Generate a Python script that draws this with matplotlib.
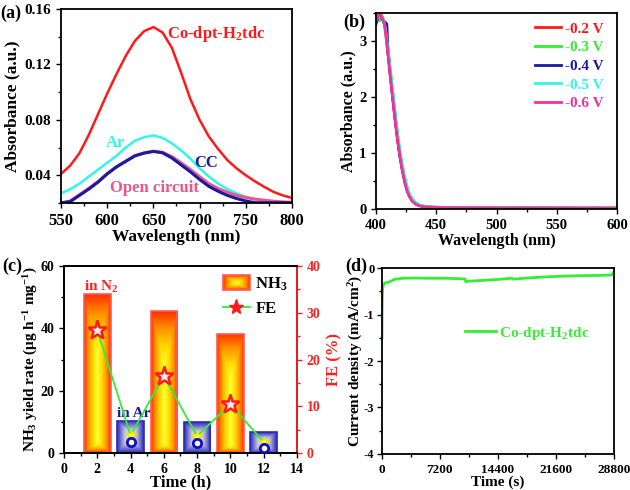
import numpy as np
import matplotlib
matplotlib.use("Agg")
import matplotlib.pyplot as plt
from matplotlib.ticker import AutoMinorLocator
from matplotlib.colors import LinearSegmentedColormap
from matplotlib.legend_handler import HandlerBase
from matplotlib.image import BboxImage
from matplotlib.transforms import Bbox, TransformedBbox
from matplotlib.patches import Rectangle
from matplotlib.lines import Line2D
from matplotlib.font_manager import FontProperties

plt.rcParams['font.family'] = ['Liberation Serif', 'DejaVu Serif']
plt.rcParams['font.weight'] = 'bold'
plt.rcParams['axes.labelweight'] = 'bold'
plt.rcParams['mathtext.fontset'] = 'custom'
plt.rcParams['mathtext.rm'] = 'Liberation Serif:bold'
plt.rcParams['mathtext.it'] = 'Liberation Serif:bold'
plt.rcParams['mathtext.bf'] = 'Liberation Serif:bold'
plt.rcParams['mathtext.default'] = 'rm'
plt.rcParams['axes.linewidth'] = 1.3

# ---- (a) UV-vis absorbance ----
wl_a = [550, 560, 570, 580, 590, 600, 610, 620, 630, 640, 650, 660, 670,
        680, 690, 700, 710, 720, 730, 740, 750, 760, 770, 780, 790, 800]
abs_co = [0.041, 0.047, 0.056, 0.069, 0.084, 0.099, 0.113, 0.126, 0.137, 0.144,
          0.147, 0.143, 0.132, 0.114, 0.095, 0.080, 0.068, 0.059, 0.051, 0.045,
          0.040, 0.0356, 0.0316, 0.028, 0.0255, 0.0236]
abs_ar = [0.027, 0.030, 0.034, 0.039, 0.044, 0.049, 0.054, 0.060, 0.065, 0.0675,
          0.0688, 0.067, 0.063, 0.058, 0.052, 0.045, 0.039, 0.034, 0.030, 0.027,
          0.0245, 0.0225, 0.021, 0.0200, 0.0195, 0.019]
abs_oc = [0.0195, 0.0215, 0.026, 0.0305, 0.0355, 0.0412, 0.0462, 0.0502, 0.0542,
          0.0562, 0.0574, 0.0566, 0.0535, 0.049, 0.0442, 0.039, 0.034, 0.0305,
          0.0278, 0.0255, 0.024, 0.0228, 0.022, 0.0213, 0.0208, 0.0205]
abs_cc = [0.0202, 0.021, 0.0255, 0.030, 0.035, 0.041, 0.046, 0.050, 0.054, 0.056,
          0.0572, 0.0562, 0.0525, 0.0475, 0.0425, 0.037, 0.032, 0.0285, 0.0255,
          0.0232, 0.0215, 0.0202, 0.0202, 0.0202, 0.0202, 0.0202]

# ---- (b) absorbance at different potentials ----
wl_b = [400, 401, 402, 403, 404, 405, 406, 407, 408, 409, 410, 412, 414, 416,
        418, 420, 422, 424, 426, 428, 430, 433, 436, 440, 445, 450, 460, 480,
        500, 550, 600]
abs_02 = [3.35, 3.40, 3.43, 3.46, 3.45, 3.41, 3.36, 3.30, 3.16, 2.97, 2.78, 2.38,
          1.98, 1.60, 1.24, 0.94, 0.69, 0.49, 0.33, 0.23, 0.16, 0.10, 0.065,
          0.045, 0.035, 0.03, 0.025, 0.022, 0.02, 0.018, 0.016]
abs_03 = [3.44, 3.46, 3.40, 3.36, 3.42, 3.45, 3.40, 3.33, 3.22, 3.05, 2.88, 2.48,
          2.08, 1.70, 1.33, 1.02, 0.76, 0.55, 0.38, 0.26, 0.18, 0.11, 0.07,
          0.05, 0.038, 0.032, 0.027, 0.024, 0.021, 0.019, 0.017]
abs_04 = [3.30, 3.38, 3.44, 3.47, 3.45, 3.40, 3.36, 3.34, 3.33, 3.30, 2.80, 2.36,
          1.96, 1.58, 1.22, 0.92, 0.68, 0.48, 0.32, 0.22, 0.15, 0.09, 0.06,
          0.04, 0.03, 0.025, 0.02, 0.018, 0.016, 0.014, 0.013]
abs_05 = [3.38, 3.42, 3.44, 3.45, 3.44, 3.42, 3.38, 3.32, 3.20, 3.02, 2.85, 2.45,
          2.05, 1.67, 1.31, 1.00, 0.74, 0.53, 0.36, 0.25, 0.17, 0.11, 0.07,
          0.05, 0.038, 0.032, 0.027, 0.024, 0.021, 0.019, 0.017]
abs_06 = [3.36, 3.40, 3.44, 3.47, 3.46, 3.42, 3.36, 3.30, 3.15, 2.95, 2.75, 2.35,
          1.95, 1.57, 1.22, 0.92, 0.67, 0.47, 0.31, 0.21, 0.14, 0.085, 0.055,
          0.04, 0.032, 0.028, 0.024, 0.021, 0.019, 0.017, 0.015]

# ---- (c) NH3 yield and FE ----
time_c = [2, 4, 6, 8, 10, 12]
nh3_yield = [50.9, 10.3, 45.5, 9.8, 38.2, 6.7]
gas = ['N2', 'Ar', 'N2', 'Ar', 'N2', 'Ar']
fe = [26.3, 3.8, 16.5, 3.6, 10.5, 2.3]
time_ar = [4, 8, 12]
fe_ar_circle = [2.4, 2.2, 1.1]

# ---- (d) chronoamperometry ----
time_d = [0, 15, 40, 80, 150, 250, 400, 700, 1000, 1600, 2600, 4000, 6000, 8000,
          10300, 10420, 10600, 12200, 14400, 16100, 16300, 18000, 20400, 22500,
          24600, 26500, 28500, 28700, 28800]
current_d = [-1.50, -1.0, -0.65, -0.45, -0.38, -0.34, -0.32, -0.31, -0.29, -0.24,
             -0.22, -0.215, -0.22, -0.22, -0.235, -0.30, -0.285, -0.27, -0.245,
             -0.22, -0.24, -0.215, -0.19, -0.175, -0.165, -0.16, -0.15, -0.10, -0.08]

fig = plt.figure(figsize=(6.3, 4.9), dpi=100)
tick_sizes = {}


def style_axis(ax, fs, fsx=None):
    ax.tick_params(which='both', direction='out', width=1.0, labelsize=fs)
    ax.tick_params(which='major', length=3.5)
    ax.tick_params(which='minor', length=2)
    ax.xaxis.set_minor_locator(AutoMinorLocator(2))
    ax.yaxis.set_minor_locator(AutoMinorLocator(2))
    tick_sizes[ax] = (fsx or fs, fs)


# (a)
ax_a = fig.add_axes([0.0968, 0.5857, 0.3667, 0.3959])
ax_a.plot(wl_a, abs_co, color='#ff1a1a', lw=1.8)
ax_a.plot(wl_a, abs_ar, color='#33f5e8', lw=1.8)
ax_a.plot(wl_a, abs_oc, color='#f0558a', lw=2.2)
ax_a.plot(wl_a, abs_cc, color='#1a1aa0', lw=2.2)
ax_a.set_xlim(550, 800)
ax_a.set_ylim(0.02, 0.16)
ax_a.set_xticks([550, 600, 650, 700, 750, 800])
ax_a.set_yticks([0.04, 0.08, 0.12, 0.16])
ax_a.set_yticklabels(['0.04', '0.08', '0.12', '0.16'])
style_axis(ax_a, 11, 12)
ax_a.set_xlabel('Wavelength (nm)', fontsize=12.5, labelpad=0)
ax_a.set_ylabel('Absorbance (a.u.)', fontsize=12.5, labelpad=3)
ax_a.text(665, 0.142, 'Co-dpt-H$_2$tdc', color='#ff1a1a', fontsize=12, va='center')
ax_a.text(599, 0.063, 'Ar', color='#33f5e8', fontsize=12, va='center')
ax_a.text(694, 0.0486, 'CC', color='#1a1aa0', fontsize=12, va='center')
ax_a.text(603, 0.031, 'Open circuit', color='#f0558a', fontsize=12, va='center')

# (b)
ax_b = fig.add_axes([0.5968, 0.5735, 0.3826, 0.4])
series_b = [(abs_02, '#ff1a1a', '-0.2 V'), (abs_03, '#33ee33', '-0.3 V'),
            (abs_04, '#1a1aa0', '-0.4 V'), (abs_05, '#33f5e8', '-0.5 V'),
            (abs_06, '#f0329c', '-0.6 V')]
for vals, col, lab in series_b:
    ax_b.plot(wl_b, vals, color=col, lw=2.0, label=lab)
ax_b.set_xlim(400, 600)
ax_b.set_ylim(0, 3.5)
ax_b.set_xticks([400, 450, 500, 550, 600])
ax_b.set_yticks([0, 1, 2, 3])
style_axis(ax_b, 10.5)
ax_b.set_xlabel('Wavelength (nm)', fontsize=11.5, labelpad=1)
ax_b.set_ylabel('Absorbance (a.u.)', fontsize=11.5, labelpad=2)
leg_b = ax_b.legend(loc='upper left', bbox_to_anchor=(0.62, 1.0), frameon=False,
                    fontsize=11, handlelength=1.7, handletextpad=0.3,
                    labelspacing=0.32, borderaxespad=0.2)
for txt, (_, col, _) in zip(leg_b.get_texts(), series_b):
    txt.set_color(col)

# (c)
ax_c = fig.add_axes([0.1016, 0.0755, 0.3698, 0.3816])

nx, ny = 80, 200
gu, gv = np.meshgrid(np.linspace(-1, 1, nx), np.linspace(0, 1, ny))
top_term = np.clip((gv - 0.62) / 0.38, 0, 1)
bot_term = np.clip((0.06 - gv) / 0.06, 0, 1)
t_orange = np.maximum(np.abs(gu), np.maximum(top_term, bot_term))
t_blue = np.maximum(np.abs(gu), np.abs(2 * gv - 1))
cmap_orange = LinearSegmentedColormap.from_list(
    'orng', [(0, '#ffff30'), (0.35, '#ffd800'), (0.7, '#ff8c00'), (1, '#ff3000')])
cmap_blue = LinearSegmentedColormap.from_list(
    'blu', [(0, '#f4f4f0'), (0.45, '#c0c0dc'), (0.8, '#6060c8'), (1, '#2a2ab8')])
img_orange = cmap_orange(t_orange)
img_blue = cmap_blue(t_blue)

edge_cols = ['#ff5a5a' if g == 'N2' else '#2a2ac0' for g in gas]
bars = ax_c.bar(time_c, nh3_yield, width=1.6, color='none', edgecolor=edge_cols,
                linewidth=1.2, zorder=2)
for bar, g in zip(bars, gas):
    x0, w, h = bar.get_x(), bar.get_width(), bar.get_height()
    im = ax_c.imshow(img_orange if g == 'N2' else img_blue, origin='lower',
                     extent=(x0, x0 + w, 0, h), aspect='auto', zorder=1.9,
                     interpolation='bilinear')
    im.set_clip_path(bar)

ax_c.set_xlim(0, 14)
ax_c.set_ylim(0, 60)
ax_c.set_xticks(range(0, 15, 2))
ax_c.set_yticks([0, 20, 40, 60])
style_axis(ax_c, 10)
ax_c.set_xlabel('Time (h)', fontsize=12, labelpad=-1)
ax_c.set_ylabel('NH$_3$ yield rate (μg h$^{-1}$ mg$^{-1}$)', fontsize=11)
ax_c.yaxis.set_label_coords(-0.105, 0.5)
ax_c.text(1.2, 53.4, 'in N$_2$', color='#ff2020', fontsize=11, va='center')
ax_c.text(3.2, 12.8, 'in Ar', color='#1a1aa0', fontsize=11, va='center')

ax_r = ax_c.twinx()
ax_r.set_ylim(0, 40)
ax_r.set_yticks([0, 10, 20, 30, 40])
ax_r.yaxis.set_minor_locator(AutoMinorLocator(2))
ax_r.tick_params(which='both', direction='out', width=1.0, labelsize=10,
                 colors='#ff2020')
ax_r.tick_params(which='major', length=3.5)
ax_r.tick_params(which='minor', length=2)
tick_sizes[ax_r] = (10, 10)
ax_r.spines['right'].set_color('#ff2020')
ax_r.set_ylabel('FE (%)', color='#ff2020', fontsize=12, labelpad=4)
ax_r.plot(time_c, fe, color='#33ee33', lw=1.3, zorder=3)
fe_n2 = [(t, f) for t, f, g in zip(time_c, fe, gas) if g == 'N2']
fe_ar = [(t, f) for t, f, g in zip(time_c, fe, gas) if g == 'Ar']
ax_r.plot([p[0] for p in fe_n2], [p[1] for p in fe_n2], ls='none', marker='*',
          ms=14, mfc='#ffe8e8', mec='#ff1a1a', mew=1.8, zorder=4)
ax_r.plot([p[0] for p in fe_ar], [p[1] for p in fe_ar], ls='none', marker='*',
          ms=9, mfc='#ffff40', mec='#eedd00', mew=0.8, zorder=4)
ax_r.plot(time_ar, fe_ar_circle, ls='none', marker='o', ms=6, mfc='white',
          mec='#1010c0', mew=2, zorder=5)


class GradHandler(HandlerBase):
    def create_artists(self, legend, orig_handle, xdescent, ydescent, width,
                       height, fontsize, trans):
        bb = TransformedBbox(Bbox.from_bounds(-xdescent, -ydescent, width, height),
                             trans)
        bimg = BboxImage(bb, interpolation='bilinear')
        bimg.set_data(cmap_orange(np.maximum(np.abs(gu), np.abs(2 * gv - 1))))
        rect = Rectangle((-xdescent, -ydescent), width, height, fill=False,
                         edgecolor='#ff5a5a', lw=1.2, transform=trans)
        return [bimg, rect]


nh3_handle = Rectangle((0, 0), 1, 1)
fe_handle = Line2D([], [], color='#33ee33', lw=1.3, marker='*', ms=11,
                   mfc='#ff1a1a', mec='#ff1a1a')
ax_r.legend([nh3_handle, fe_handle], ['NH$_3$', 'FE'],
            handler_map={Rectangle: GradHandler()}, loc='upper right',
            bbox_to_anchor=(1.0, 1.0), frameon=False, fontsize=12,
            handlelength=1.6, handleheight=1.0, handletextpad=0.35,
            labelspacing=0.45, borderaxespad=0.15)

# (d)
ax_d = fig.add_axes([0.6063, 0.0735, 0.3683, 0.3795])
ax_d.plot(time_d, current_d, color='#33ee33', lw=2.0, label='Co-dpt-H$_2$tdc')
ax_d.set_xlim(0, 28800)
ax_d.set_ylim(-4, 0)
ax_d.set_xticks([0, 7200, 14400, 21600, 28800])
ax_d.set_yticks([0, -1, -2, -3, -4])
ax_d.set_yticklabels(['0', '-1', '-2', '-3', '-4'])
style_axis(ax_d, 9, 9.5)
ax_d.tick_params(axis='y', pad=2)
ax_d.set_xlabel('Time (s)', fontsize=11, labelpad=0)
ax_d.set_ylabel('Current density (mA/cm$^2$)', fontsize=11)
ax_d.yaxis.set_label_coords(-0.075, 0.5)
leg_d = ax_d.legend(loc='upper left', bbox_to_anchor=(0.3, 0.77), frameon=False,
                    fontsize=11, handlelength=2.0, handletextpad=0.2)
leg_d.get_texts()[0].set_color('#33ee33')

# panel labels
fig.text(0.0, 1 - 13 / 490, '(a)', fontsize=13, va='center', ha='left')
fig.text(343 / 630, 1 - 22 / 490, '(b)', fontsize=13, va='center', ha='left')
fig.text(0.003, 1 - 266 / 490, '(c)', fontsize=13, va='center', ha='left')
fig.text(345 / 630, 1 - 266 / 490, '(d)', fontsize=13, va='center', ha='left')

# make tick labels bold once the ticks exist
fig.canvas.draw()
for ax, (fsx, fsy) in tick_sizes.items():
    for lab in ax.get_xticklabels():
        lab.set_fontproperties(FontProperties(family='Liberation Serif',
                                              weight='bold', size=fsx))
    for lab in ax.get_yticklabels():
        lab.set_fontproperties(FontProperties(family='Liberation Serif',
                                              weight='bold', size=fsy))

fig.savefig('out.png', dpi=100)
